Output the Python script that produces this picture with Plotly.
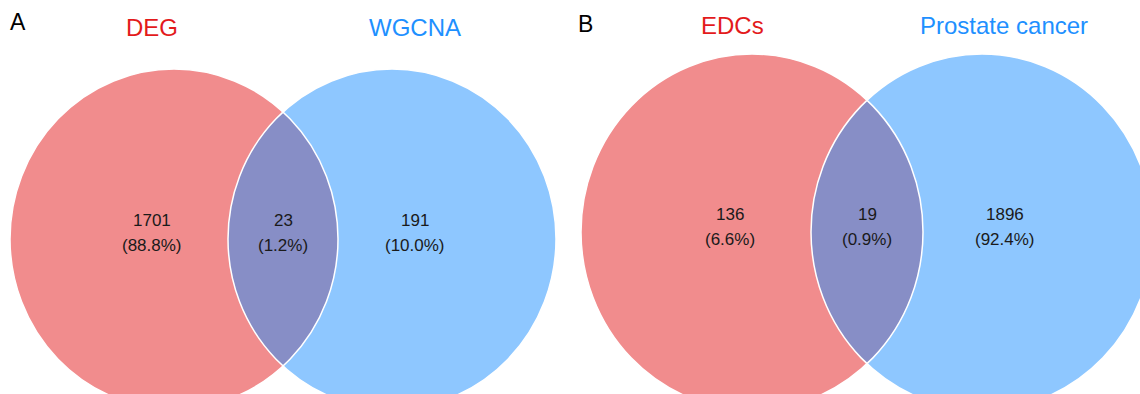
import plotly.graph_objects as go

# Venn counts for the two comparisons
panel_ids = ["A", "B"]
set_left = ["DEG", "EDCs"]
set_right = ["WGCNA", "Prostate cancer"]
only_left = [1701, 136]
shared = [23, 19]
only_right = [191, 1896]

W, H = 1140, 394
FONT = "Liberation Sans, Arial, sans-serif"
RED_FILL = "rgba(227,26,28,0.5)"
BLUE_FILL = "rgba(30,144,255,0.5)"
RED_TEXT = "#E31A1C"
BLUE_TEXT = "#1E90FF"

# layout of each panel (pixel space): circle centres, radii, label anchors
geom = [
    dict(cy=239, lcx=174, rcx=392, rx=164, ry=170,
         tag=(18, 22), ttl=(152, 27), ttr=(415, 27),
         lab=(152, 283, 415), ly=(220, 245)),
    dict(cy=232, lcx=752, rcx=982, rx=171, ry=178,
         tag=(585, 24), ttl=(732, 25), ttr=(1004, 25),
         lab=(730, 867, 1005), ly=(214, 239)),
]

fig = go.Figure()
fig.add_trace(go.Scatter(x=[0, W], y=[0, H], mode="markers",
                         marker=dict(opacity=0), hoverinfo="skip",
                         showlegend=False))

shapes = []
annotations = []

for i, g in enumerate(geom):
    total = only_left[i] + shared[i] + only_right[i]
    # filled circles (translucent so the overlap blends)
    for cx, fill in ((g["lcx"], RED_FILL), (g["rcx"], BLUE_FILL)):
        shapes.append(dict(type="circle", xref="x", yref="y",
                           x0=cx - g["rx"], x1=cx + g["rx"],
                           y0=g["cy"] - g["ry"], y1=g["cy"] + g["ry"],
                           fillcolor=fill, line=dict(width=0), layer="above"))
    # white outlines on top
    for cx in (g["lcx"], g["rcx"]):
        shapes.append(dict(type="circle", xref="x", yref="y",
                           x0=cx - g["rx"], x1=cx + g["rx"],
                           y0=g["cy"] - g["ry"], y1=g["cy"] + g["ry"],
                           fillcolor="rgba(0,0,0,0)",
                           line=dict(color="white", width=1.5), layer="above"))

    # panel tag and set names
    annotations.append(dict(x=g["tag"][0], y=g["tag"][1], text=panel_ids[i],
                            showarrow=False, xref="x", yref="y",
                            font=dict(family=FONT, size=23, color="black")))
    annotations.append(dict(x=g["ttl"][0], y=g["ttl"][1], text=set_left[i],
                            showarrow=False, xref="x", yref="y",
                            font=dict(family=FONT, size=24, color=RED_TEXT)))
    annotations.append(dict(x=g["ttr"][0], y=g["ttr"][1], text=set_right[i],
                            showarrow=False, xref="x", yref="y",
                            font=dict(family=FONT, size=24, color=BLUE_TEXT)))

    # region counts with percentages
    for xpos, n in zip(g["lab"], (only_left[i], shared[i], only_right[i])):
        pct = 100.0 * n / total
        annotations.append(dict(x=xpos, y=g["ly"][0], text=str(n),
                                showarrow=False, xref="x", yref="y",
                                font=dict(family=FONT, size=17, color="#1a1a1a")))
        annotations.append(dict(x=xpos, y=g["ly"][1], text=f"({pct:.1f}%)",
                                showarrow=False, xref="x", yref="y",
                                font=dict(family=FONT, size=17, color="#1a1a1a")))

fig.update_layout(
    width=W, height=H,
    margin=dict(l=0, r=0, t=0, b=0),
    paper_bgcolor="white", plot_bgcolor="white",
    xaxis=dict(range=[0, W], visible=False, fixedrange=True),
    yaxis=dict(range=[H, 0], visible=False, fixedrange=True),
    shapes=shapes, annotations=annotations,
    showlegend=False,
)

fig.write_html("out.html", config={"displayModeBar": False})
